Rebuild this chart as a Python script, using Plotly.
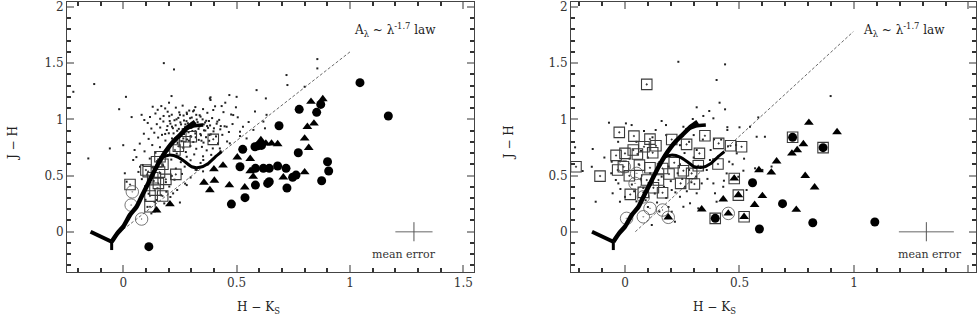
import plotly.graph_objects as go

# ---------------- intrinsic colour loci (H-Ks, J-H) ----------------
stub1_hk = [-0.144, -0.051]
stub1_jh = [0.0, -0.089]
stub2_hk = [-0.051, -0.051]
stub2_jh = [-0.163, -0.089]
giant_hk = [-0.051, -0.026, 0.0, 0.03, 0.059, 0.085, 0.11, 0.147, 0.176, 0.20, 0.22, 0.25, 0.287, 0.317]
giant_jh = [-0.089, -0.014, 0.045, 0.15, 0.222, 0.33, 0.43, 0.578, 0.68, 0.75, 0.80, 0.86, 0.934, 0.978]
giant2_hk = [0.265, 0.309, 0.353]
giant2_jh = [0.905, 0.94, 0.949]
dwarf_hk = [0.176, 0.206, 0.243, 0.272, 0.302, 0.338, 0.375, 0.404, 0.434]
dwarf_jh = [0.667, 0.682, 0.662, 0.623, 0.578, 0.573, 0.608, 0.662, 0.712]

# reddening lines
red_l_hk = [0.0, 1.0]
red_l_jh = [0.02, 1.6]
red_r_hk = [0.045, 0.997]
red_r_jh = [0.0, 1.78]

# ---------------- left panel ----------------
tri_l_hk = [0.147, 0.206, 0.356, 0.382, 0.402, 0.40, 0.44, 0.468, 0.503, 0.536, 0.56, 0.56, 0.573,
            0.607, 0.629, 0.654, 0.681, 0.706, 0.80, 0.818, 0.80, 0.812, 0.841, 0.828, 0.88]
tri_l_jh = [0.19, 0.245, 0.437, 0.371, 0.455, 0.556, 0.59, 0.414, 0.662, 0.395, 0.649, 0.54, 0.49,
            0.816, 0.786, 0.786, 0.78, 0.484, 0.53, 0.747, 0.83, 0.934, 0.964, 1.157, 1.18]
fc_l_hk = [0.113, 0.477, 0.537, 0.515, 0.527, 0.583, 0.583, 0.618, 0.644, 0.681, 0.718, 0.644, 0.637,
           0.722, 0.747, 0.762, 0.772, 0.875, 0.901, 0.906, 0.687, 0.776, 0.853, 0.871, 1.044, 1.169,
           0.581, 0.596, 0.61]
fc_l_jh = [-0.133, 0.246, 0.303, 0.578, 0.733, 0.415, 0.564, 0.564, 0.564, 0.585, 0.564, 0.445, 0.43,
           0.389, 0.484, 0.504, 0.703, 0.454, 0.623, 0.54, 0.943, 1.089, 1.062, 1.133, 1.326, 1.03,
           0.756, 0.766, 0.768]
oc_l_hk = [0.04, 0.035, 0.081]
oc_l_jh = [0.355, 0.237, 0.113]
sq_l_hk = [0.03, 0.10, 0.11, 0.155, 0.188, 0.232, 0.118, 0.174, 0.118, 0.147, 0.162, 0.175, 0.228,
           0.243, 0.272, 0.30, 0.397, 0.14, 0.13, 0.16]
sq_l_jh = [0.42, 0.549, 0.535, 0.43, 0.466, 0.51, 0.318, 0.318, 0.222, 0.623, 0.667, 0.60, 0.727,
           0.76, 0.80, 0.845, 0.822, 0.37, 0.48, 0.53]

dot_l_hk = [-0.22, -0.128, -0.154, 0.012, -0.018, -0.059, 0.0, 0.037, 0.081, 0.093, 0.179, 0.224, 0.382,
            0.468, 0.588, 0.72, 0.724, 0.856, 0.856, 0.80, 0.629, 0.25, 0.05, 0.007, 0.015, 0.044, 0.074,
            0.385, 0.385, 0.434, 0.45, 0.497, 0.213, 0.202,
            0.618, 0.625, 0.632, 0.581, 0.5, 0.397, 0.485, 0.515, 0.456, 0.544, 0.47, 0.426, 0.28, 0.353,
            0.324, 0.28, 0.22, 0.147, 0.19,
            0.13, 0.152, 0.168, 0.185, 0.232, 0.262, 0.291, 0.318, 0.352, 0.405,
            0.142, 0.196, 0.214, 0.247, 0.281, 0.308, 0.337, 0.371, 0.442, 0.476,
            0.118, 0.163, 0.203, 0.226, 0.243, 0.266, 0.279, 0.302, 0.324, 0.341, 0.366, 0.392, 0.423, 0.505, 0.553,
            0.108, 0.148, 0.177, 0.208, 0.231, 0.252, 0.274, 0.291, 0.314, 0.346, 0.361, 0.383, 0.412, 0.447, 0.482, 0.528,
            0.124, 0.163, 0.192, 0.219, 0.238, 0.262, 0.284, 0.305, 0.332, 0.356, 0.374, 0.398, 0.428, 0.466, 0.574,
            0.091, 0.137, 0.171, 0.201, 0.244, 0.268, 0.297, 0.318, 0.343, 0.365, 0.386, 0.409, 0.437, 0.515,
            0.112, 0.154, 0.186, 0.228, 0.258, 0.281, 0.309, 0.333, 0.354, 0.379, 0.418, 0.458,
            0.073, 0.128, 0.162, 0.208, 0.265, 0.296, 0.322, 0.347, 0.368, 0.395, 0.429,
            0.094, 0.142, 0.198, 0.236, 0.276, 0.313, 0.352, 0.388,
            0.058, 0.117, 0.149, 0.212, 0.254, 0.297, 0.341, 0.372,
            0.086, 0.128, 0.176, 0.232, 0.271, 0.319, 0.352,
            0.067, 0.106, 0.163, 0.214, 0.259, 0.297,
            0.082, 0.134, 0.188, 0.226, 0.273,
            0.096, 0.151, 0.203, 0.238,
            0.112, 0.167, 0.208,
            0.098, 0.138, 0.181,
            0.107, 0.142, 0.124,
            0.205, 0.215, 0.222, 0.235, 0.245, 0.255, 0.258, 0.268, 0.272, 0.285, 0.288, 0.295, 0.30,
            0.31, 0.318, 0.322, 0.328, 0.335, 0.34, 0.35, 0.355, 0.362, 0.37, 0.378, 0.25, 0.28, 0.312,
            0.265, 0.29, 0.32, 0.345, 0.38, 0.40, 0.415, 0.43, 0.24, 0.215, 0.195, 0.185, 0.178]
dot_l_jh = [1.245, 1.314, 0.652, 1.20, 1.09, 0.741, 0.77, 1.02, 1.04, 0.994, 1.50, 1.444, 1.186,
            1.216, 1.26, 1.394, 1.305, 1.536, 1.453, 1.29, 1.186, 0.26, 0.727, 0.52, 0.445, 0.638, 0.578,
            1.196, 1.172, 1.118, 1.148, 1.107, 1.207, 1.148,
            0.98, 0.92, 1.04, 1.07, 1.2, 1.083, 1.038, 0.89, 0.934, 0.83, 0.786, 0.741, 0.667, 0.638,
            0.549, 0.415, 0.341, 0.282, 0.356,
            1.112, 1.085, 1.118, 1.097, 1.104, 1.122, 1.078, 1.109, 1.091, 1.116,
            1.052, 1.068, 1.041, 1.062, 1.047, 1.071, 1.036, 1.058, 1.064, 1.043,
            1.021, 1.005, 1.028, 0.992, 1.013, 1.034, 0.984, 1.016, 0.998, 1.024, 0.987, 1.011, 0.995, 1.018, 0.976,
            0.968, 0.957, 0.981, 0.962, 0.947, 0.973, 0.955, 0.944, 0.966, 0.951, 0.972, 0.946, 0.961, 0.938, 0.958, 0.934,
            0.918, 0.927, 0.905, 0.921, 0.898, 0.912, 0.928, 0.896, 0.915, 0.902, 0.924, 0.893, 0.911, 0.887, 0.906,
            0.872, 0.881, 0.862, 0.876, 0.855, 0.869, 0.851, 0.874, 0.858, 0.841, 0.866, 0.848, 0.862, 0.851,
            0.826, 0.838, 0.811, 0.829, 0.805, 0.821, 0.798, 0.817, 0.793, 0.809, 0.786, 0.803,
            0.784, 0.771, 0.752, 0.768, 0.747, 0.762, 0.738, 0.755, 0.724, 0.741, 0.716,
            0.715, 0.703, 0.722, 0.695, 0.709, 0.688, 0.671, 0.684,
            0.664, 0.651, 0.628, 0.642, 0.619, 0.636, 0.612, 0.597,
            0.594, 0.571, 0.586, 0.562, 0.579, 0.551, 0.537,
            0.532, 0.508, 0.521, 0.497, 0.514, 0.482,
            0.468, 0.452, 0.441, 0.463, 0.428,
            0.404, 0.386, 0.402, 0.371,
            0.338, 0.324, 0.309,
            0.284, 0.266, 0.252,
            0.221, 0.198, 0.163,
            0.985, 0.935, 0.875, 1.0, 0.915, 0.955, 0.865, 0.99, 0.93, 0.965, 0.885, 1.01, 0.925,
            0.95, 0.895, 1.04, 0.975, 0.935, 0.87, 1.0, 0.955, 0.9, 0.94, 0.985, 1.04, 1.06, 1.08,
            0.83, 0.81, 0.84, 0.81, 0.86, 0.92, 0.98, 0.94, 0.79, 0.83, 0.94, 0.87, 1.03]

# ---------------- right panel ----------------
tri_r_hk = [0.803, 0.926, 0.779, 0.752, 0.729, 0.662, 0.585, 0.639, 0.787, 0.828, 0.60, 0.566, 0.748,
            0.52, 0.477, 0.495, 0.451, 0.429, 0.335, 0.189]
tri_r_jh = [0.97, 0.887, 0.78, 0.727, 0.697, 0.626, 0.549, 0.528, 0.498, 0.395, 0.318, 0.24, 0.196,
            0.133, 0.474, 0.326, 0.163, 0.288, 0.20, 0.128]
fc_r_hk = [0.732, 0.865, 0.557, 0.688, 0.394, 0.587, 0.82, 1.091]
fc_r_jh = [0.84, 0.748, 0.436, 0.25, 0.119, 0.024, 0.08, 0.087]
sq_r_hk = [0.095, -0.025, 0.039, 0.109, 0.204, 0.269, 0.349, 0.409, 0.461, 0.509, -0.039, 0.0, 0.036,
           0.054, 0.083, 0.135, 0.121, 0.325, -0.214, -0.109, -0.032, -0.007, 0.019, 0.063, 0.109,
           0.164, 0.215, 0.255, 0.291, 0.32, 0.406, 0.023, 0.08, 0.124, 0.164, 0.192, 0.243, 0.303,
           0.095, 0.146, 0.477, 0.495, 0.52, 0.732, 0.865, 0.394]
sq_r_jh = [1.311, 0.884, 0.851, 0.824, 0.821, 0.777, 0.854, 0.786, 0.765, 0.756, 0.679, 0.697, 0.727,
           0.691, 0.756, 0.765, 0.703, 0.697, 0.578, 0.495, 0.549, 0.578, 0.498, 0.593, 0.569,
           0.563, 0.614, 0.543, 0.519, 0.587, 0.602, 0.332, 0.35, 0.391, 0.347, 0.513, 0.43, 0.424,
           0.46, 0.46, 0.474, 0.326, 0.133, 0.84, 0.748, 0.119]
oc_r_hk = [-0.003, 0.044, 0.007, 0.08, 0.109, 0.164, 0.189, 0.451, 0.08, 0.051]
oc_r_jh = [0.578, 0.43, 0.119, 0.133, 0.208, 0.193, 0.128, 0.163, 0.31, 0.519]
dot_r_hk = [0.233, 0.437, 0.40, 0.437, 0.413, 0.313, 0.368, 0.342, 0.386, 0.296, 0.16, 0.179, 0.029,
            0.004, -0.07, 0.255, 0.447, 0.447, 0.134, -0.218, -0.141, 0.083, 0.5, 0.546, 0.575, 0.611,
            0.389, 0.374, 0.313, 0.371, 0.455, 0.488, 0.485, 0.898, 0.582, -0.185, -0.145, -0.128,
            -0.058, -0.054, -0.022, -0.029, 0.204, 0.24, 0.262, 0.313, 0.335, 0.357, 0.386, 0.393, 0.40,
            0.429, 0.432, 0.444, 0.517, 0.495, 0.568, 0.531, 0.32, 0.204, 0.218, 0.117, 0.284, 0.255,
            -0.09, -0.06, -0.04, -0.02, 0.0, 0.02, 0.03, 0.04, 0.05, 0.06, 0.07, 0.08, 0.09, 0.1, 0.1,
            0.11, 0.12, 0.13, 0.14, 0.15, 0.15, 0.16, 0.17, 0.18, 0.19, 0.19, 0.2, 0.21, 0.22, 0.23,
            0.24, 0.25, 0.26, 0.27, 0.28, 0.29, 0.3, 0.31, 0.33, 0.34, 0.36, 0.28, 0.24, 0.05, 0.07,
            -0.03, 0.12, 0.18, 0.3, 0.42, 0.45, 0.47, 0.52, 0.55, 0.6, 0.64]
dot_r_jh = [1.512, 1.489, 1.35, 1.089, 1.148, 1.107, 1.074, 1.03, 1.009, 1.003, 0.985, 0.949, 0.949,
            0.964, 0.97, 0.934, 0.905, 0.93, 0.905, 0.751, 0.736, 0.896, 0.929, 0.934, 0.845, 0.845,
            0.822, 0.727, 0.727, 0.638, 0.623, 0.697, 0.771, 1.207, 1.017, 0.54, 0.578, 0.267,
            0.623, 0.342, 0.267, 0.43, 0.371, 0.311, 0.40, 0.342, 0.43, 0.549, 0.43, 0.342, 0.267,
            0.40, 0.454, 0.519, 0.543, 0.489, 0.564, 0.371, 0.208, 0.178, 0.089, 0.06, 0.253, 0.222,
            0.66, 0.52, 0.46, 0.38, 0.31, 0.65, 0.42, 0.36, 0.27, 0.6, 0.47, 0.39, 0.28, 0.22, 0.66,
            0.52, 0.44, 0.34, 0.26, 0.62, 0.18, 0.49, 0.4, 0.3, 0.58, 0.22, 0.45, 0.68, 0.35, 0.52,
            0.6, 0.47, 0.7, 0.36, 0.55, 0.44, 0.66, 0.49, 0.58, 0.82, 0.47, 0.8, 0.77, 0.8, 0.72,
            0.8, 0.84, 0.86, 0.86, 0.82, 0.76, 0.6, 0.65, 0.45, 0.55, 0.58]

# mean error crosses
err_l_x = [1.282]
err_l_y = [0.0]
err_l_dx = [0.082]
err_l_dy = [0.085]
err_r_x = [1.316]
err_r_y = [0.0]
err_r_dx = [0.12]
err_r_dy = [0.085]

FONT = "DejaVu Serif"
fig = go.Figure()


def add_panel(xa, ya, dots_x, dots_y, sq_x, sq_y, oc_x, oc_y, tri_x, tri_y, fc_x, fc_y,
              red_x, red_y, ex, ey, edx, edy):
    fig.add_trace(go.Scatter(x=dots_x, y=dots_y, mode="markers", xaxis=xa, yaxis=ya,
                             marker=dict(symbol="square", size=2, color="#222")))
    fig.add_trace(go.Scatter(x=red_x, y=red_y, mode="lines", xaxis=xa, yaxis=ya,
                             line=dict(color="#444", width=0.8, dash="3px,2px")))
    fig.add_trace(go.Scatter(x=sq_x, y=sq_y, mode="markers", xaxis=xa, yaxis=ya,
                             marker=dict(symbol="square-open-dot", size=10.5, color="#3a3a3a",
                                         line=dict(color="#3a3a3a", width=1.1))))
    fig.add_trace(go.Scatter(x=oc_x, y=oc_y, mode="markers", xaxis=xa, yaxis=ya,
                             marker=dict(symbol="circle-open-dot", size=12.5, color="#555",
                                         line=dict(color="#555", width=0.8))))
    for hx, hy, w in [(stub1_hk, stub1_jh, 4), (stub2_hk, stub2_jh, 3), (giant_hk, giant_jh, 4.5),
                      (giant2_hk, giant2_jh, 3.5), (dwarf_hk, dwarf_jh, 3)]:
        fig.add_trace(go.Scatter(x=hx, y=hy, mode="lines", xaxis=xa, yaxis=ya,
                                 line=dict(color="black", width=w, shape="spline", smoothing=0.6)))
    fig.add_trace(go.Scatter(x=tri_x, y=tri_y, mode="markers", xaxis=xa, yaxis=ya,
                             marker=dict(symbol="triangle-up", size=8.5, color="black")))
    fig.add_trace(go.Scatter(x=fc_x, y=fc_y, mode="markers", xaxis=xa, yaxis=ya,
                             marker=dict(symbol="circle", size=9, color="black")))
    fig.add_trace(go.Scatter(x=[ex[0] - edx[0], ex[0] + edx[0]], y=[ey[0], ey[0]], mode="lines",
                             xaxis=xa, yaxis=ya, line=dict(color="#999", width=1.5)))
    fig.add_trace(go.Scatter(x=[ex[0], ex[0]], y=[ey[0] - edy[0], ey[0] + edy[0]], mode="lines",
                             xaxis=xa, yaxis=ya, line=dict(color="#555", width=1)))


add_panel("x", "y", dot_l_hk, dot_l_jh, sq_l_hk, sq_l_jh, oc_l_hk, oc_l_jh, tri_l_hk, tri_l_jh,
          fc_l_hk, fc_l_jh, red_l_hk, red_l_jh, err_l_x, err_l_y, err_l_dx, err_l_dy)
add_panel("x2", "y2", dot_r_hk, dot_r_jh, sq_r_hk, sq_r_jh, oc_r_hk, oc_r_jh, tri_r_hk, tri_r_jh,
          fc_r_hk, fc_r_jh, red_r_hk, red_r_jh, err_r_x, err_r_y, err_r_dx, err_r_dy)

axis_common = dict(showgrid=False, zeroline=False, showline=True, linecolor="#444", linewidth=1,
                   mirror="allticks", ticks="inside", ticklen=7, tickcolor="#999", tickwidth=1.5,
                   tick0=0, dtick=0.5, automargin=False,
                   minor=dict(ticks="inside", ticklen=4, tickcolor="#333", dtick=0.1, tick0=0, showgrid=False),
                   tickfont=dict(family=FONT, size=12, color="#333"))

ydom = [0.139, 0.9937]
fig.update_layout(
    width=978, height=316, margin=dict(l=0, r=0, t=0, b=0, autoexpand=False),
    paper_bgcolor="white", plot_bgcolor="white", showlegend=False,
    xaxis=dict(domain=[0.0685, 0.4847], range=[-0.248, 1.547], anchor="y", **axis_common),
    yaxis=dict(domain=ydom, range=[-0.359, 2.044], anchor="x", **axis_common),
    xaxis2=dict(domain=[0.5838, 0.998], range=[-0.236, 1.533], anchor="y2", **axis_common),
    yaxis2=dict(domain=ydom, range=[-0.359, 2.044], anchor="x2", **axis_common),
)

ann_font = dict(family=FONT, size=12, color="#222")
anns = []
for xc in [0.004, 0.5205]:
    anns.append(dict(text="J − H", xref="paper", yref="paper", x=xc, y=0.547, showarrow=False,
                     textangle=-90, font=ann_font))
for xc in [0.2403, 0.7546]:
    anns.append(dict(text="H − K<sub>S</sub>", xref="paper", yref="paper", x=xc, y=0.0,
                     yanchor="bottom", yshift=-2, showarrow=False, font=ann_font))
anns.append(dict(text="A<sub>λ</sub> ~ λ<sup>-1.7</sup> law", xref="x", yref="y", x=1.2, y=1.795,
                 showarrow=False, font=ann_font))
anns.append(dict(text="A<sub>λ</sub> ~ λ<sup>-1.7</sup> law", xref="x2", yref="y2", x=1.218, y=1.795,
                 showarrow=False, font=ann_font))
anns.append(dict(text="mean error", xref="x", yref="y", x=1.236, y=-0.2, showarrow=False,
                 font=dict(family=FONT, size=11, color="#333")))
anns.append(dict(text="mean error", xref="x2", yref="y2", x=1.33, y=-0.2, showarrow=False,
                 font=dict(family=FONT, size=11, color="#333")))
fig.update_layout(annotations=anns)

fig.write_html("out.html", config={"displayModeBar": False},
               post_script="document.body.style.margin='0';document.body.style.overflow='hidden';")
